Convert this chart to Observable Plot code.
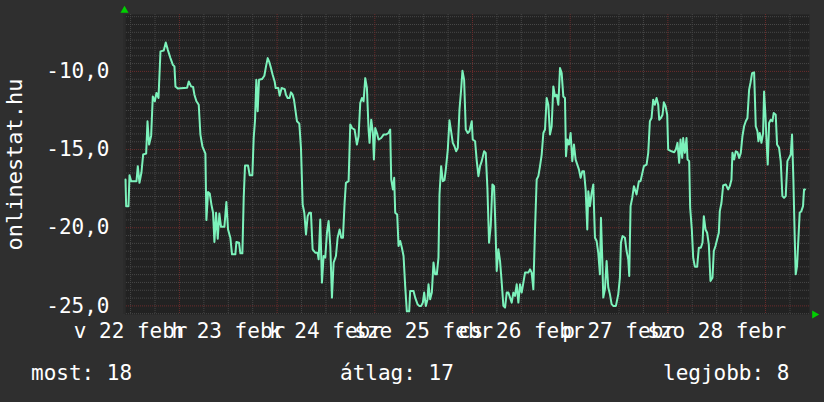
<!DOCTYPE html>
<html><head><meta charset="utf-8">
<script src="https://cdn.jsdelivr.net/npm/d3@7"></script>
<script src="https://cdn.jsdelivr.net/npm/@observablehq/plot@0.6"></script>
<style>
html,body{margin:0;padding:0;background:#2f2f2f;}
#wrap{position:relative;width:824px;height:402px;background:#2f2f2f;font-family:"DejaVu Sans Mono",monospace;color:#fff;overflow:hidden;}
#legend{position:absolute;left:0;top:350px;width:824px;height:52px;font-size:21px;}
#legend span{position:absolute;top:13px;line-height:21px;white-space:pre;}
</style></head><body><div id="wrap"><div id="chart"></div><div id="legend"></div></div>
<script>
// hour offsets from 2015-02-22 00:00, temperature readings
const segA = [[10.75,-16.91],[10.91,-18.62],[11.48,-18.62],[11.73,-16.64],[12.14,-17.02],[13.45,-17.02],[13.77,-16.06],[14.18,-17.13],[14.67,-16.45],[15.08,-15.32],[15.82,-15.26],[16.15,-13.19],[16.55,-14.68],[17.05,-14.11],[17.45,-11.6],[17.95,-11.91],[18.35,-11.38],[18.85,-11.7],[19.34,-8.72],[20.15,-8.66],[20.64,-8.15],[21.14,-8.62],[21.79,-9.15],[22.36,-9.57],[22.77,-9.68],[23.02,-10.96],[23.59,-11.09],[25.88,-11.04],[26.29,-10.64],[26.86,-10.96],[27.35,-11.0],[27.68,-11.49],[28.17,-11.91],[28.74,-12.13],[29.15,-14.04],[29.64,-14.79],[30.38,-15.26],[30.62,-19.51],[31.03,-17.72],[31.44,-17.81],[31.85,-18.51],[32.26,-19.04],[32.59,-20.91],[33.0,-19.04],[33.41,-20.7],[33.81,-19.09],[34.22,-19.94],[35.04,-19.94],[35.53,-18.36],[35.94,-20.11],[36.51,-20.64],[36.92,-21.7],[37.74,-21.7],[37.99,-20.91],[38.64,-20.96],[38.97,-21.64],[39.46,-21.64],[39.79,-18.09],[40.11,-16.02],[40.85,-16.02],[41.26,-16.64],[41.91,-16.64],[42.24,-14.26],[42.57,-13.13],[42.89,-10.53],[43.22,-12.55],[43.55,-10.53],[44.29,-10.49],[44.86,-10.28],[45.27,-9.68],[45.68,-9.15],[46.08,-9.4],[46.49,-9.79],[46.9,-10.21],[47.39,-10.64],[47.64,-11.06],[48.29,-11.06],[48.62,-11.55],[49.11,-11.06],[49.85,-11.13],[50.17,-11.49],[50.58,-11.7],[51.07,-11.7],[51.4,-11.34],[51.81,-11.49],[52.14,-11.81]];
const segB = [[52.88,-13.19],[53.45,-13.34],[53.86,-14.89],[54.27,-18.51],[54.68,-19.04],[55.09,-20.43],[55.5,-19.26],[55.9,-19.04],[56.31,-19.04],[56.72,-21.38],[57.38,-21.6],[57.95,-21.6],[58.2,-22.02],[58.6,-19.47],[59.01,-23.51],[59.42,-21.81],[59.83,-21.91],[60.24,-20.32],[60.65,-19.57],[61.06,-21.17],[61.47,-24.47],[61.88,-22.23],[62.45,-21.81],[62.86,-20.64],[63.35,-20.11],[63.76,-20.64],[64.17,-20.64],[64.58,-18.4],[64.9,-17.13],[65.56,-17.02],[65.97,-13.4],[66.38,-13.62],[67.03,-13.72],[67.6,-14.68],[68.01,-14.15],[68.42,-12.02],[68.83,-11.7],[69.24,-11.91],[69.65,-10.43],[70.06,-11.06],[70.47,-13.72],[70.71,-14.57],[71.12,-13.09],[71.53,-13.94],[71.78,-15.64],[72.1,-13.62],[72.51,-13.94],[72.92,-14.36],[73.57,-14.26],[74.15,-14.04],[74.72,-14.04],[75.37,-13.94],[75.78,-13.72],[76.03,-16.91],[76.44,-17.55],[76.76,-16.81],[77.01,-19.04],[77.5,-19.15],[77.83,-21.17],[78.24,-20.85],[78.65,-21.28],[79.06,-21.81],[79.46,-23.72],[79.87,-25.35],[80.45,-25.35],[80.69,-24.04],[81.51,-24.04],[81.92,-24.47],[82.49,-24.89],[82.9,-25.0],[83.39,-25.0],[83.8,-24.79],[84.13,-24.15],[84.54,-25.0],[84.95,-24.57],[85.19,-23.62],[85.6,-24.57],[86.01,-24.15],[86.42,-22.23],[86.83,-22.98],[87.24,-22.98],[87.64,-21.91],[87.89,-17.87],[88.3,-16.06],[88.71,-17.02],[89.12,-16.96],[89.44,-16.28],[89.93,-15.0],[90.34,-13.13],[90.75,-13.83],[91.16,-14.57],[91.57,-14.79],[91.98,-15.11],[92.39,-14.89],[92.8,-12.45],[93.21,-11.17],[93.53,-9.96],[93.94,-10.53],[94.35,-13.72],[94.84,-13.94],[95.25,-13.83]];
const segC = [[95.82,-13.19],[96.06,-14.36],[96.64,-14.47],[97.05,-15.74],[97.46,-16.7],[97.86,-16.06],[98.27,-15.74],[98.85,-15.11],[99.25,-15.21],[99.66,-17.45],[100.07,-20.96],[100.48,-19.89],[100.89,-17.23],[101.3,-17.34],[101.63,-19.89],[101.95,-22.77],[102.36,-21.38],[102.77,-22.13],[103.18,-23.51],[103.59,-25.0],[104.0,-25.11],[104.41,-24.15],[104.82,-24.15],[105.23,-24.47],[105.64,-24.79],[106.04,-24.15],[106.45,-24.36],[106.86,-23.62],[107.27,-24.79],[107.68,-23.62],[108.09,-24.15],[108.5,-23.51],[108.91,-22.87],[109.73,-22.87],[110.13,-22.66],[110.54,-22.87],[110.95,-23.94],[111.36,-20.11],[111.77,-16.91],[112.18,-16.7],[112.59,-16.06],[113.0,-15.32],[113.41,-13.94],[113.82,-13.72],[114.22,-11.7],[114.63,-12.13],[115.04,-14.04],[115.45,-13.51],[115.86,-10.96],[116.27,-11.6],[116.68,-11.49],[117.09,-12.13],[117.5,-9.79],[117.91,-10.11],[118.31,-11.6],[118.72,-11.7],[118.97,-15.43],[119.3,-14.36],[119.7,-14.68],[120.11,-13.94],[120.52,-15.74],[120.93,-14.68],[121.34,-15.64],[121.75,-15.96],[122.16,-16.28],[122.57,-16.81],[122.98,-16.38],[123.39,-16.38],[123.8,-17.55],[124.2,-20.11],[124.45,-17.66],[124.86,-18.62],[125.27,-17.77],[125.68,-17.23],[126.09,-20.64],[126.5,-20.85],[126.9,-21.6],[127.31,-22.98],[127.56,-19.36],[127.89,-22.02],[128.13,-24.47],[128.54,-23.94],[128.95,-22.13],[129.36,-23.83],[129.77,-24.26],[130.18,-24.89],[130.58,-25.0],[131.24,-25.0],[131.81,-24.26],[132.22,-23.19],[132.47,-20.96],[132.87,-20.53],[133.45,-20.64],[133.86,-21.49],[134.27,-22.02],[134.51,-23.09],[134.84,-18.62],[135.25,-18.09],[135.66,-17.34],[136.31,-17.87],[136.88,-17.02],[137.29,-17.02]];
const segD = [[138.11,-16.06],[138.77,-15.96],[139.18,-15.21],[139.58,-13.19],[139.99,-12.98],[140.4,-11.81],[140.81,-12.13],[141.22,-11.7],[141.63,-12.13],[141.87,-13.09],[142.28,-12.98],[142.69,-12.77],[143.02,-11.98],[143.43,-12.23],[143.84,-12.77],[144.08,-15.0],[144.9,-15.11],[145.56,-15.17],[145.96,-15.0],[146.37,-14.57],[146.78,-15.85],[147.11,-14.36],[147.52,-15.53],[147.76,-14.26],[148.17,-15.21],[148.58,-14.26],[148.83,-15.64],[149.24,-15.74],[149.48,-18.72],[149.89,-20.11],[150.22,-21.91],[150.63,-22.49],[151.2,-22.49],[151.61,-21.28],[152.1,-21.28],[152.51,-20.96],[152.84,-19.26],[153.25,-20.11],[153.65,-20.32],[154.06,-21.06],[154.47,-23.4],[154.96,-23.19],[155.29,-21.49],[155.7,-21.17],[156.11,-20.74],[156.52,-20.32],[156.76,-18.94],[157.17,-18.4],[157.58,-17.3],[158.23,-17.23],[158.81,-17.55],[159.22,-17.34],[159.63,-16.91],[159.87,-15.21],[160.28,-15.64],[160.69,-15.11],[161.1,-15.17],[161.51,-15.53],[161.92,-15.21],[162.32,-14.15],[162.73,-13.51],[163.14,-13.19],[163.55,-12.98],[163.96,-11.17],[164.29,-10.74],[164.7,-10.11],[165.19,-10.06],[165.6,-13.51],[166.01,-13.83],[166.25,-14.47],[166.58,-13.94],[166.99,-14.57],[167.4,-13.94],[167.64,-11.28],[167.97,-12.77],[168.21,-14.26],[168.54,-15.96],[168.87,-13.3],[169.28,-13.09],[169.69,-13.19],[170.01,-12.66],[170.5,-12.77],[170.83,-14.68],[171.32,-14.89],[171.73,-15.74],[172.14,-17.98],[172.55,-18.09],[172.96,-17.98],[173.37,-15.74],[173.78,-15.53],[174.19,-15.32],[174.51,-14.04],[174.84,-16.91],[175.17,-20.64],[175.41,-22.98],[175.74,-22.45],[176.07,-20.74],[176.39,-19.04],[176.8,-18.94],[177.21,-18.62],[177.46,-17.55],[177.7,-17.55]];

const dayLabels = ["v 22 febr","h 23 febr","k 24 febr","sze 25 febr","cs 26 febr","p 27 febr","szo 28 febr"];
const yTickValues = [-25, -20, -15, -10];
const yTitle = "onlinestat.hu";
const legendItems = [["most: 18", 31], ["átlag: 17", 340], ["legjobb: 8", 663]];
const viewStartHour = 10.5, viewEndHour = 178.8;
const yDomain = [-25.55, -6.36];

const base = Date.UTC(2015, 1, 22);
const toDate = h => new Date(base + h * 3600e3);
const data = [...segA, ...segB, ...segC, ...segD].map(([h, v]) => ({t: toDate(h), v}));
const xDomain = [toDate(viewStartHour), toDate(viewEndHour)];

const minorY = d3.range(-25.5, yDomain[1], 0.5).filter(v => Math.abs(v % 5) > 1e-9);
const sixHours = d3.range(12, viewEndHour, 6);
const minorX = sixHours.filter(h => h % 24 !== 0).map(toDate);
const majorX = sixHours.filter(h => h % 24 === 0).map(toDate);
const noonTicks = dayLabels.map((_, i) => toDate(12 + 24 * i));
const labelFor = d => dayLabels[Math.round((d - base) / 864e5 - 0.5)];

const minorStyle = {stroke: "#474747", strokeOpacity: 1, strokeDasharray: "1,1"};
const majorStyle = {stroke: "#6c2c2c", strokeOpacity: 1, strokeDasharray: "1,1"};

const chart = Plot.plot({
  width: 824, height: 350,
  marginLeft: 124, marginRight: 15, marginTop: 14, marginBottom: 36,
  x: {type: "utc", domain: xDomain},
  y: {domain: yDomain},
  style: {background: "#2f2f2f", color: "#ffffff", fontFamily: "'DejaVu Sans Mono', monospace", fontSize: "21px", overflow: "visible"},
  marks: [
    Plot.frame({fill: "#222222"}),
    Plot.gridY(minorY, minorStyle),
    Plot.gridX(minorX, minorStyle),
    Plot.gridY(yTickValues, majorStyle),
    Plot.gridX(majorX, majorStyle),
    Plot.ruleX([xDomain[0]], {stroke: "#2b2b2b", strokeWidth: 2.5}),
    Plot.line(data, {x: "t", y: "v", stroke: "#7cf2bb", strokeWidth: 2}),
    Plot.axisY(yTickValues, {tickSize: 0, tickPadding: 15, tickFormat: d => d.toFixed(1).replace(".", ","), label: null, fill: "#ffffff"}),
    Plot.axisX(noonTicks, {tickSize: 0, tickPadding: 9, tickFormat: labelFor, label: null, fill: "#ffffff"}),
    Plot.text([yTitle], {frameAnchor: "left", dx: -110, rotate: -90, textAnchor: "middle", fontSize: 22, fill: "#ffffff"}),
    Plot.dot([xDomain[0]], {x: d => d, y: () => yDomain[1], symbol: "triangle", r: 3, fill: "#00d000", dy: -4}),
    Plot.dot([xDomain[1]], {x: d => d, y: () => yDomain[0], symbol: "triangle", r: 3, fill: "#00d000", dx: 5, rotate: 90})
  ]
});
document.getElementById("chart").appendChild(chart);

const legend = document.getElementById("legend");
for (const [txt, left] of legendItems) {
  const s = document.createElement("span");
  s.textContent = txt;
  s.style.left = left + "px";
  legend.appendChild(s);
}
</script>
</body></html>
